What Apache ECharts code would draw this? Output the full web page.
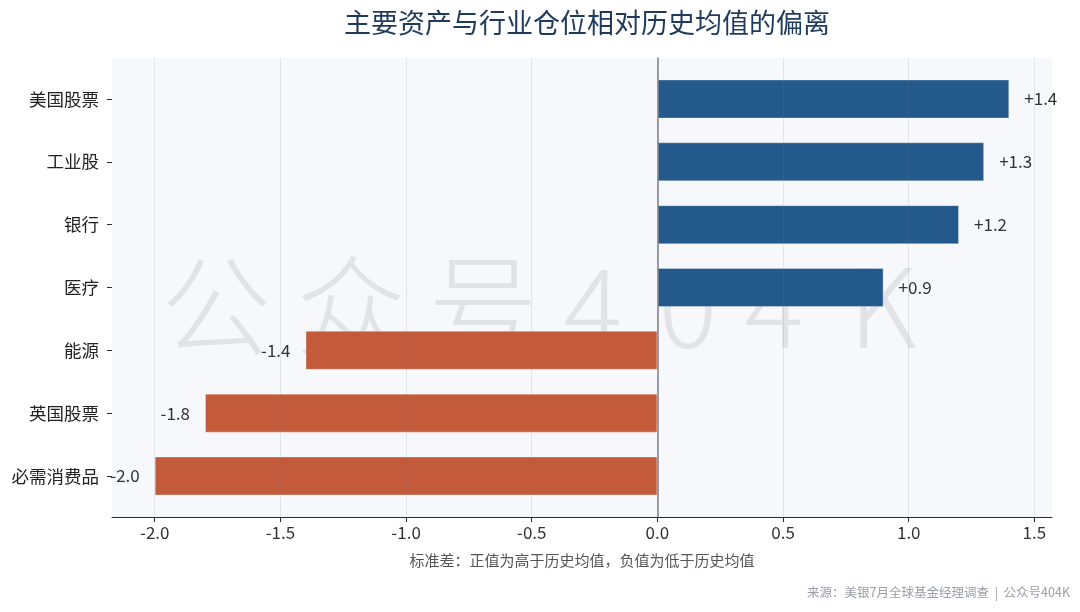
<!DOCTYPE html>
<html>
<head>
<meta charset="utf-8">
<title>主要资产与行业仓位相对历史均值的偏离</title>
<script src="https://cdn.jsdelivr.net/npm/echarts@6/dist/echarts.min.js"></script>
<style>
    html, body { margin: 0; padding: 0; background: #fff; }
    #main { width: 1080px; height: 612px; }
</style>
</head>
<body>
<div id="main"></div>
<script>
    // data, top to bottom
    var categories = ['美国股票', '工业股', '银行', '医疗', '能源', '英国股票', '必需消费品'];
    var deviation = [1.4, 1.3, 1.2, 0.9, -1.4, -1.8, -2.0];
    var xTicks = [-2.0, -1.5, -1.0, -0.5, 0.0, 0.5, 1.0, 1.5];

    var BLUE = '#245a8b';
    var RED = '#c35b3b';
    var FONT = '"Noto Sans CJK SC", "Noto Sans", sans-serif';

    var barData = deviation.map(function(v) {
        return {
            value: v,
            itemStyle: { color: v >= 0 ? BLUE : RED },
            label: { position: v >= 0 ? 'right' : 'left' }
        };
    });

    // watermark, one glyph at a time so the spacing matches
    var wmChars = ['公', '众', '号', '4', '0', '4', 'K'];
    var wmX = [216, 351, 483, 593, 688, 774, 883];
    var watermark = wmChars.map(function(c, i) {
        return {
            type: 'text', z: 0, x: wmX[i], y: 306,
            style: {
                text: c, fill: '#e2e3e7', font: '300 110px ' + FONT,
                align: 'center', verticalAlign: 'middle'
            }
        };
    });

    var myChart = echarts.init(document.getElementById('main'));
    var option = {
        backgroundColor: '#ffffff',
        textStyle: { fontFamily: FONT },
        title: {
            text: '主要资产与行业仓位相对历史均值的偏离',
            left: 582, top: 4, textAlign: 'center',
            textStyle: { fontSize: 27, fontWeight: 'normal', color: '#1f3b5c', fontFamily: FONT }
        },
        grid: [
            { left: 112, right: 28, top: 58, bottom: 95, show: true, backgroundColor: '#f7f8fc', borderWidth: 0 },
            { left: 112, right: 28, top: 67.6, bottom: 104.6 }
        ],
        xAxis: [
            {
                gridIndex: 0, type: 'value', min: -2.17, max: 1.57,
                minInterval: 0.5, maxInterval: 0.5, z: 3,
                name: '标准差：正值为高于历史均值，负值为低于历史均值',
                nameLocation: 'middle', nameGap: 36,
                nameTextStyle: { fontSize: 15, color: '#555', fontFamily: FONT },
                axisLine: { show: true, onZero: false, lineStyle: { color: '#2a2a2a', width: 1 } },
                axisTick: { show: true, length: 5, customValues: xTicks, lineStyle: { color: '#2a2a2a' } },
                axisLabel: {
                    customValues: xTicks, margin: 7, fontSize: 17, color: '#333',
                    formatter: function(v) { return v.toFixed(1); }
                },
                // translucent so the lines show faintly over the bars too
                splitLine: { show: true, lineStyle: { color: 'rgba(122,126,140,0.16)', width: 1 } }
            },
            {
                gridIndex: 1, type: 'value', min: -2.17, max: 1.57, show: false
            }
        ],
        yAxis: [
            {
                gridIndex: 0, type: 'value', min: 0, max: 1, z: 3,
                axisLine: { show: true, onZero: true, lineStyle: { color: '#7d818c', width: 1.5 } },
                axisTick: { show: false }, axisLabel: { show: false }, splitLine: { show: false }
            },
            {
                gridIndex: 1, type: 'category', data: categories, inverse: true,
                axisLine: { show: false, onZero: false },
                axisTick: { show: true, alignWithLabel: true, length: 5, lineStyle: { color: '#2a2a2a' } },
                axisLabel: { margin: 13, fontSize: 17.5, color: '#222' }
            }
        ],
        series: [
            {
                type: 'bar', xAxisIndex: 1, yAxisIndex: 1, z: 2,
                barWidth: 39,
                itemStyle: { borderColor: 'rgba(255,255,255,0.3)', borderWidth: 1 },
                label: {
                    show: true, distance: 15, fontSize: 17, color: '#333',
                    formatter: function(p) {
                        return (p.value > 0 ? '+' : '') + p.value.toFixed(1);
                    }
                },
                data: barData
            }
        ],
        graphic: watermark.concat([
            {
                type: 'text', right: 10, top: 586,
                style: {
                    text: '来源：美银7月全球基金经理调查  |  公众号404K',
                    fill: '#9a9ea6', font: '12.5px ' + FONT
                }
            }
        ])
    };
    myChart.setOption(option);
</script>
</body>
</html>
